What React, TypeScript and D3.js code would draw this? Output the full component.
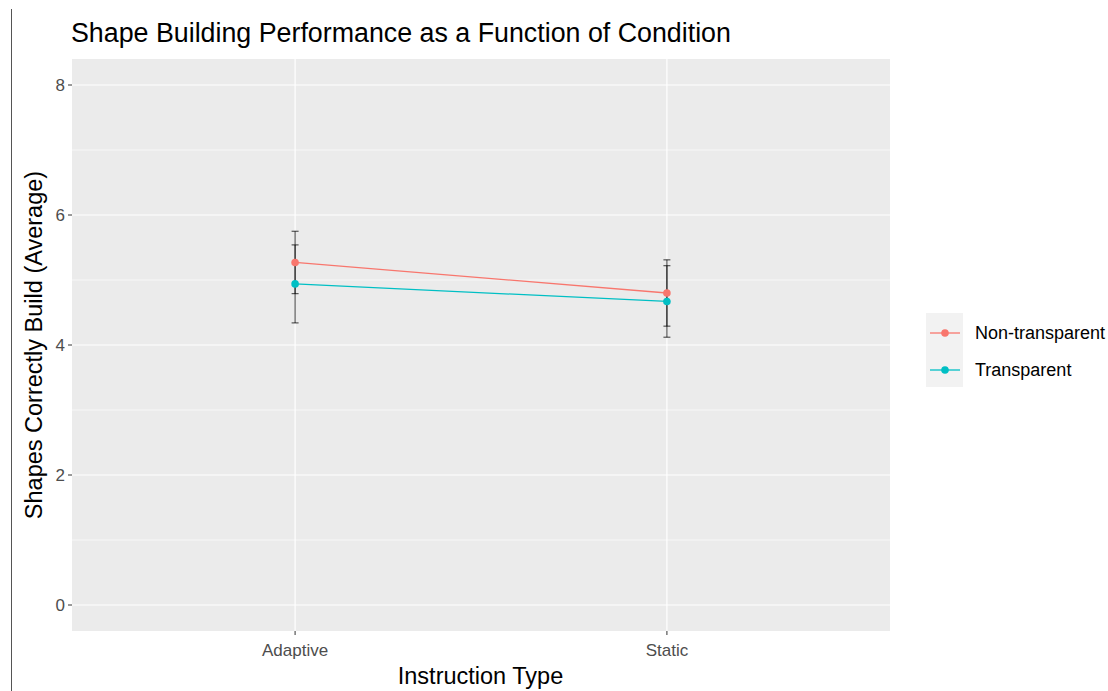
import React from 'react';
import * as d3 from 'd3';

const categories = ['Adaptive', 'Static'];
const groups = ['Non-transparent', 'Transparent'];
const groupColors = ['#F8766D', '#00BFC4'];
const means = [
  [5.27, 4.80],
  [4.94, 4.67],
];
const errors = [
  [0.48, 0.51],
  [0.60, 0.55],
];
const yTicks = [0, 2, 4, 6, 8];
const yMinor = [1, 3, 5, 7];

const W = 1108;
const H = 691;
const panel = { left: 72, right: 890, top: 59, bottom: 631 };
const font = 'Arial, "Liberation Sans", sans-serif';

const App = () => {
  const x = d3.scalePoint<string>()
    .domain(categories)
    .range([panel.left, panel.right])
    .padding(0.6);
  const y = d3.scaleLinear().domain([-0.4, 8.4]).range([panel.bottom, panel.top]);

  const line = d3.line<[string, number]>()
    .x(d => x(d[0]) as number)
    .y(d => y(d[1]));

  return (
    <svg width={W} height={H} style={{ position: 'absolute', left: 0, top: 0 }} fontFamily={font}>
      <rect width={W} height={H} fill="#fff" />
      <line x1={11.5} x2={11.5} y1={9} y2={H} stroke="#555" strokeWidth={1} />
      <text x={71} y={42} fontSize={26.8} fill="#000">Shape Building Performance as a Function of Condition</text>

      <rect x={panel.left} y={panel.top} width={panel.right - panel.left} height={panel.bottom - panel.top} fill="#EBEBEB" />
      {yMinor.map(v => (
        <line key={'m' + v} x1={panel.left} x2={panel.right} y1={y(v)} y2={y(v)} stroke="#fff" strokeWidth={0.6} />
      ))}
      {yTicks.map(v => (
        <line key={'g' + v} x1={panel.left} x2={panel.right} y1={y(v)} y2={y(v)} stroke="#fff" strokeWidth={1.2} />
      ))}
      {categories.map(c => (
        <line key={'v' + c} x1={x(c)} x2={x(c)} y1={panel.top} y2={panel.bottom} stroke="#fff" strokeWidth={1.2} />
      ))}

      {yTicks.map(v => (
        <g key={'t' + v}>
          <line x1={panel.left - 4} x2={panel.left} y1={y(v)} y2={y(v)} stroke="#333" strokeWidth={1} />
          <text x={panel.left - 7} y={y(v)} dy="0.36em" textAnchor="end" fontSize={17} fill="#4D4D4D">{v}</text>
        </g>
      ))}
      {categories.map(c => (
        <g key={'xt' + c}>
          <line x1={x(c)} x2={x(c)} y1={panel.bottom} y2={panel.bottom + 4} stroke="#333" strokeWidth={1} />
          <text x={x(c)} y={panel.bottom + 25} textAnchor="middle" fontSize={17} fill="#4D4D4D">{c}</text>
        </g>
      ))}

      <text x={(panel.left + panel.right) / 2 - 0.5} y={684} textAnchor="middle" fontSize={23.5} fill="#000">Instruction Type</text>
      <text transform={`translate(42, ${(panel.top + panel.bottom) / 2}) rotate(-90)`} textAnchor="middle" fontSize={23.5} fill="#000">Shapes Correctly Build (Average)</text>

      {groups.map((g, gi) => (
        <path key={'l' + g} d={line(categories.map((c, ci) => [c, means[gi][ci]]) as [string, number][]) || ''}
          fill="none" stroke={groupColors[gi]} strokeWidth={1.3} />
      ))}
      {groups.map((g, gi) => categories.map((c, ci) => {
        const cx = x(c) as number;
        const hi = y(means[gi][ci] + errors[gi][ci]);
        const lo = y(means[gi][ci] - errors[gi][ci]);
        return (
          <g key={'e' + g + c} stroke="#000" strokeOpacity={0.7} strokeWidth={1.1}>
            <line x1={cx} x2={cx} y1={hi} y2={lo} />
            <line x1={cx - 3.5} x2={cx + 3.5} y1={hi} y2={hi} />
            <line x1={cx - 3.5} x2={cx + 3.5} y1={lo} y2={lo} />
          </g>
        );
      }))}
      {groups.map((g, gi) => categories.map((c, ci) => (
        <circle key={'p' + g + c} cx={x(c)} cy={y(means[gi][ci])} r={3.8} fill={groupColors[gi]} />
      )))}

      <g>
        <rect x={926} y={313} width={37} height={74} fill="#F2F2F2" />
        {groups.map((g, gi) => {
          const ky = 333 + gi * 37;
          return (
            <g key={'lg' + g}>
              <line x1={930} x2={960} y1={ky} y2={ky} stroke={groupColors[gi]} strokeWidth={1.3} />
              <circle cx={945} cy={ky} r={3.8} fill={groupColors[gi]} />
              <text x={975} y={ky} dy="0.36em" fontSize={18} fill="#000">{g}</text>
            </g>
          );
        })}
      </g>
    </svg>
  );
};

export default App;
